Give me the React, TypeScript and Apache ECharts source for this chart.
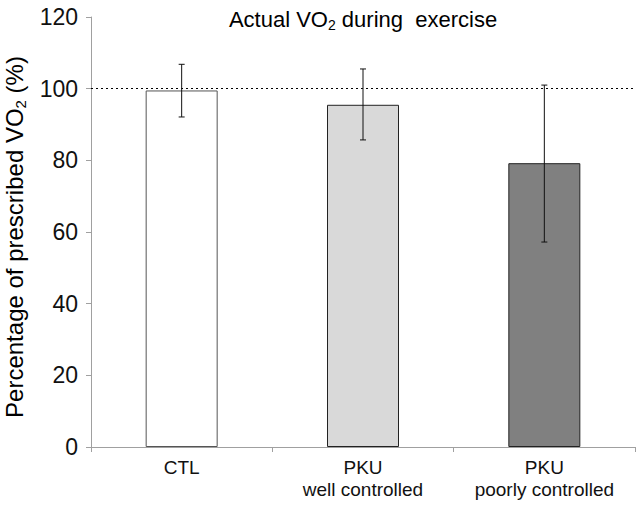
import React, { useEffect, useRef } from "react";
import * as echarts from "echarts";

const categories = ["CTL", "PKU\nwell controlled", "PKU\npoorly controlled"];
const meanValues = [99.5, 95.5, 79.2];
const errLow = [92.1, 85.7, 57.2];
const errHigh = [106.8, 105.5, 101.0];
const barColors = ["#ffffff", "#d9d9d9", "#808080"];
const yTicks = { min: 0, max: 120, interval: 20 };
const referenceLine = 100;

const FONT = "Liberation Sans, Arial, sans-serif";

export default function App() {
  const ref = useRef<HTMLDivElement>(null);
  useEffect(() => {
    document.body.style.margin = "0";
    const chart = echarts.init(ref.current!, null, { renderer: "svg" });
    const errData = categories.map((_, i) => [i, errLow[i], errHigh[i]]);
    chart.setOption({
      animation: false,
      backgroundColor: "#ffffff",
      title: {
        text: "Actual VO{sub|2} during  exercise",
        left: 358,
        top: 1,
        textAlign: "center",
        textStyle: {
          fontFamily: FONT,
          fontSize: 22,
          fontWeight: "normal",
          color: "#000",
          rich: {
            sub: { fontFamily: FONT, fontSize: 14, verticalAlign: "bottom", padding: [12, 0, 0, 0], color: "#000" },
          },
        },
      },
      graphic: [
        {
          type: "text",
          x: 14,
          y: 237,
          rotation: Math.PI / 2,
          style: {
            text: "Percentage of prescribed VO{sub|2} (%)",
            font: `24px ${FONT}`,
            fill: "#000",
            align: "center",
            verticalAlign: "middle",
            rich: {
              sub: { fontFamily: FONT, fontSize: 15, verticalAlign: "bottom", padding: [13, 0, 0, 0], fill: "#000" },
            },
          },
        },
      ],
      grid: { left: 91, right: 1, top: 17, bottom: 58, containLabel: false },
      xAxis: {
        type: "category",
        data: categories,
        axisLine: { lineStyle: { color: "#a0a0a0", width: 1 } },
        axisTick: { show: true, length: 5, lineStyle: { color: "#a0a0a0" } },
        axisLabel: { fontFamily: FONT, fontSize: 19, color: "#111", margin: 9, lineHeight: 22 },
      },
      yAxis: {
        type: "value",
        min: yTicks.min,
        max: yTicks.max,
        interval: yTicks.interval,
        axisLine: { show: true, lineStyle: { color: "#a0a0a0", width: 1 } },
        axisTick: { show: true, length: 5, lineStyle: { color: "#a0a0a0" } },
        axisLabel: { fontFamily: FONT, fontSize: 23, color: "#111", margin: 13 },
        splitLine: { show: false },
      },
      series: [
        {
          type: "bar",
          barWidth: 72,
          data: meanValues.map((v, i) => ({
            value: v,
            itemStyle: { color: barColors[i], borderColor: i === 0 ? "#555" : "#222", borderWidth: 1 },
          })),
          markLine: {
            silent: true,
            symbol: "none",
            label: { show: false },
            lineStyle: { type: [2, 3], color: "#000", width: 1 },
            data: [{ yAxis: referenceLine }],
          },
        },
        {
          type: "custom",
          data: errData,
          z: 10,
          renderItem: (params: any, api: any) => {
            const x = api.value(0);
            const lo = api.coord([x, api.value(1)]);
            const hi = api.coord([x, api.value(2)]);
            const w = 3;
            const style = { stroke: "#111", lineWidth: 1 };
            return {
              type: "group",
              children: [
                { type: "line", shape: { x1: lo[0], y1: lo[1], x2: hi[0], y2: hi[1] }, style },
                { type: "line", shape: { x1: lo[0] - w, y1: lo[1], x2: lo[0] + w, y2: lo[1] }, style },
                { type: "line", shape: { x1: hi[0] - w, y1: hi[1], x2: hi[0] + w, y2: hi[1] }, style },
              ],
            };
          },
        },
      ],
    });
    return () => chart.dispose();
  }, []);
  return <div ref={ref} style={{ position: "fixed", left: 0, top: 0, width: 636, height: 505 }} />;
}
